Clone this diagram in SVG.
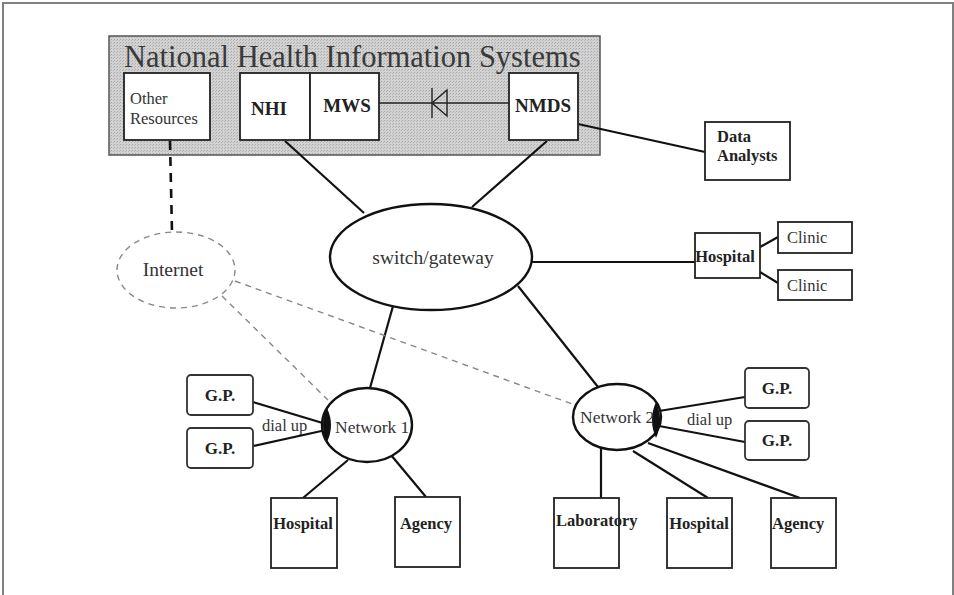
<svg xmlns="http://www.w3.org/2000/svg" width="954" height="595" viewBox="0 0 954 595">
  <defs>
    <pattern id="stipple" width="3" height="3" patternUnits="userSpaceOnUse">
      <rect width="3" height="3" fill="#d2d2d2"/>
      <rect x="0" y="0" width="1" height="1" fill="#a8a8a8"/>
      <rect x="2" y="1" width="1" height="1" fill="#b4b4b4"/>
    </pattern>
    <style>
      .frame { fill: none; stroke: #808080; stroke-width: 2; }
      .box { fill: #fff; stroke: #222; stroke-width: 1.8; }
      .rbox { fill: #fff; stroke: #333; stroke-width: 1.8; }
      .panel { fill: url(#stipple); stroke: #555; stroke-width: 1.5; }
      .ell { fill: #fff; stroke: #111; stroke-width: 2.4; }
      .dash-ell { fill: none; stroke: #888; stroke-width: 1.4; stroke-dasharray: 6 5; }
      .link { stroke: #111; stroke-width: 2.2; fill: none; }
      .thin { stroke: #222; stroke-width: 1.4; fill: none; }
      .web { stroke: #888; stroke-width: 1.4; stroke-dasharray: 6 5; fill: none; }
      .heavy-dash { stroke: #111; stroke-width: 2.6; stroke-dasharray: 9 7; fill: none; }
      .lens { fill: #111; }
      text { font-family: "Liberation Serif", "Times New Roman", serif; fill: #222; }
      .title { font-size: 30.5px; fill: #3a3a3a; }
      .top { font-size: 19px; font-weight: bold; }
      .lbl { font-size: 16.5px; font-weight: bold; }
      .gp { font-size: 17px; font-weight: bold; }
      .reg { font-size: 19.5px; fill: #333; }
      .clinic { font-size: 16.5px; fill: #333; }
      .net { font-size: 17.5px; fill: #333; }
      .small { font-size: 16.5px; fill: #333; }
      .mid { text-anchor: middle; }
    </style>
  </defs>

  <rect width="954" height="595" fill="#fff"/>
  <path class="frame" d="M3,595 V3 H953 V595"/>

  <!-- national systems panel -->
  <g id="nhis">
    <rect class="panel" x="109" y="36" width="491" height="119"/>
    <text class="title" x="124" y="67">National Health Information Systems</text>
  </g>

  <!-- connectors -->
  <g id="connectors">
    <line class="thin" x1="379" y1="103" x2="509" y2="103"/>
    <line class="thin" x1="432" y1="88" x2="432" y2="118"/>
    <polygon class="thin" points="432,103 447,90 447,116"/>
    <line class="link" x1="578" y1="124" x2="705" y2="152"/>
    <line class="heavy-dash" x1="170" y1="141" x2="172" y2="232"/>
    <line class="link" x1="285" y1="141" x2="364" y2="213"/>
    <line class="link" x1="547" y1="141" x2="472" y2="207"/>
    <line class="link" x1="532" y1="262" x2="695" y2="262"/>
    <line class="link" x1="760" y1="247" x2="778" y2="237"/>
    <line class="link" x1="760" y1="272" x2="778" y2="283"/>
    <line class="link" x1="518" y1="286" x2="598" y2="387"/>
    <line class="link" x1="393" y1="306" x2="370" y2="388"/>
    <line class="web" x1="235" y1="281" x2="575" y2="405"/>
    <line class="web" x1="222" y1="296" x2="328" y2="400"/>
    <line class="link" x1="253" y1="402" x2="326" y2="424"/>
    <line class="link" x1="253" y1="446" x2="326" y2="430"/>
    <line class="link" x1="659" y1="411" x2="745" y2="397"/>
    <line class="link" x1="659" y1="426" x2="745" y2="442"/>
    <line class="link" x1="348" y1="460" x2="303" y2="498"/>
    <line class="link" x1="391" y1="455" x2="426" y2="497"/>
    <line class="link" x1="601" y1="447" x2="601" y2="498"/>
    <line class="link" x1="633" y1="451" x2="708" y2="498"/>
    <line class="link" x1="648" y1="443" x2="800" y2="498"/>
  </g>

  <g id="other-resources">
    <rect class="box" x="124" y="73" width="86" height="67"/>
    <text class="clinic" x="130" y="104">Other</text>
    <text class="clinic" x="130" y="124">Resources</text>
  </g>
  <g id="nhi">
    <rect class="box" x="240" y="73" width="70" height="67"/>
    <text class="top mid" x="269" y="115">NHI</text>
  </g>
  <g id="mws">
    <rect class="box" x="310" y="73" width="69" height="67"/>
    <text class="top mid" x="347" y="112">MWS</text>
  </g>
  <g id="nmds">
    <rect class="box" x="509" y="73" width="69" height="67"/>
    <text class="top mid" x="543" y="112">NMDS</text>
  </g>
  <g id="data-analysts">
    <rect class="box" x="705" y="122" width="85" height="58"/>
    <text class="lbl" x="717" y="142">Data</text>
    <text class="lbl" x="717" y="161">Analysts</text>
  </g>

  <g id="internet">
    <ellipse class="dash-ell" cx="176" cy="270" rx="59" ry="38"/>
    <text class="reg mid" x="173" y="276">Internet</text>
  </g>
  <g id="switch">
    <ellipse class="ell" cx="431" cy="257" rx="101" ry="53"/>
    <text class="reg mid" x="433" y="264">switch/gateway</text>
  </g>

  <g id="hospital-main">
    <rect class="box" x="695" y="233" width="65" height="45"/>
    <text class="lbl mid" x="725" y="262">Hospital</text>
  </g>
  <g id="clinic-1">
    <rect class="box" x="778" y="222" width="74" height="31"/>
    <text class="clinic" x="787" y="243">Clinic</text>
  </g>
  <g id="clinic-2">
    <rect class="box" x="778" y="270" width="74" height="30"/>
    <text class="clinic" x="787" y="291">Clinic</text>
  </g>

  <g id="network-1">
    <ellipse class="ell" cx="367" cy="425" rx="45" ry="37"/>
    <path class="lens" d="M327,408 Q319,425 327,442 Q335,425 327,408 Z"/>
    <text class="net" x="335" y="433">Network 1</text>
  </g>
  <g id="network-2">
    <ellipse class="ell" cx="617" cy="417" rx="44" ry="33"/>
    <path class="lens" d="M656,402 Q648,420 656,438 Q664,420 656,402 Z"/>
    <text class="net" x="580" y="423">Network 2</text>
  </g>

  <g id="gp-1">
    <rect class="rbox" x="187" y="375" width="66" height="40" rx="4"/>
    <text class="gp mid" x="220" y="401">G.P.</text>
  </g>
  <g id="gp-2">
    <rect class="rbox" x="187" y="428" width="66" height="40" rx="4"/>
    <text class="gp mid" x="220" y="454">G.P.</text>
  </g>
  <text class="small" x="262" y="431">dial up</text>
  <g id="gp-3">
    <rect class="rbox" x="745" y="368" width="64" height="40" rx="4"/>
    <text class="gp mid" x="777" y="394">G.P.</text>
  </g>
  <g id="gp-4">
    <rect class="rbox" x="745" y="421" width="64" height="39" rx="4"/>
    <text class="gp mid" x="777" y="446">G.P.</text>
  </g>
  <text class="small" x="687" y="425">dial up</text>

  <g id="hospital-1">
    <rect class="box" x="271" y="498" width="66" height="70"/>
    <text class="lbl mid" x="303" y="529">Hospital</text>
  </g>
  <g id="agency-1">
    <rect class="box" x="395" y="497" width="65" height="70"/>
    <text class="lbl mid" x="426" y="529">Agency</text>
  </g>
  <g id="laboratory">
    <rect class="box" x="554" y="498" width="65" height="70"/>
    <text class="lbl" x="556" y="526">Laboratory</text>
  </g>
  <g id="hospital-2">
    <rect class="box" x="667" y="498" width="65" height="70"/>
    <text class="lbl mid" x="699" y="529">Hospital</text>
  </g>
  <g id="agency-2">
    <rect class="box" x="771" y="498" width="65" height="70"/>
    <text class="lbl" x="772" y="529">Agency</text>
  </g>
</svg>
